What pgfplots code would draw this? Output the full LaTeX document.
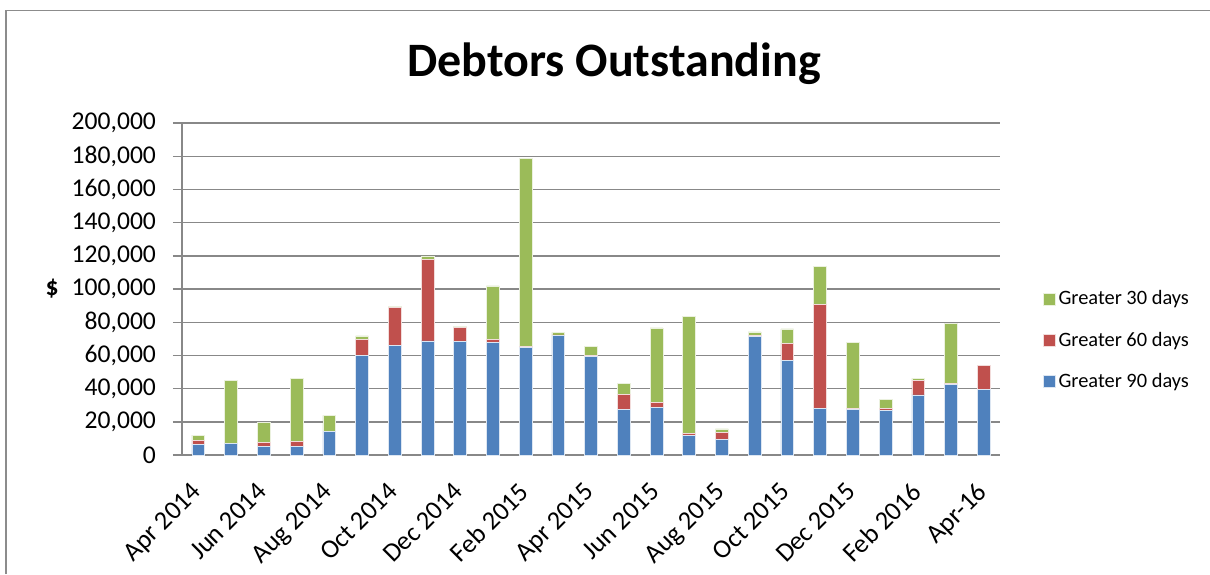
\documentclass[border=0pt]{standalone}
\usepackage{pgfplots}
\pgfplotsset{compat=1.18}
\usepackage{pgfplotstable}
\usepackage{fontspec}
\setmainfont{Carlito}
\definecolor{xblue}{HTML}{4F81BD}
\definecolor{xred}{HTML}{C0504D}
\definecolor{xgreen}{HTML}{9BBB59}
\definecolor{xgrid}{HTML}{888888}
\definecolor{xframe}{HTML}{8C8C8C}
\pgfplotstableread{
idx g90 g60 g30
0 6600 2000 3400
1 6800 300 37700
2 5200 2200 12300
3 5200 2800 38000
4 14300 0 9600
5 59900 9600 2300
6 65900 23100 400
7 68700 49100 2200
8 68500 8300 800
9 67900 1600 32400
10 64900 300 113700
11 72000 400 1400
12 59500 300 5500
13 27700 8700 6600
14 28700 3100 44800
15 11900 1000 70500
16 9400 4300 2000
17 71600 400 2200
18 57100 10000 8900
19 28100 62600 22900
20 27300 600 39800
21 26900 1200 5300
22 36200 8800 1200
23 42600 600 36200
24 39400 14500 0
}\debtors
\begin{document}
\begin{tikzpicture}
\useasboundingbox (0,0) rectangle (605pt,287pt);
\draw[xframe, line width=0.6pt] (3pt,0) -- (3pt,281.8pt) -- (605pt,281.8pt);
\node[anchor=base, font=\fontsize{24}{28}\selectfont\bfseries] at (307pt,248.5pt) {Debtors Outstanding};
\begin{axis}[
  at={(91pt,59.5pt)}, anchor=south west,
  scale only axis, width=409pt, height=166pt,
  ybar stacked, bar width=6.4pt,
  xmin=-0.5, xmax=24.5, ymin=0, ymax=200000,
  axis x line*=bottom, axis y line*=left,
  axis line style={xgrid, line width=0.7pt},
  ytick={0,20000,...,200000},
  scaled y ticks=false,
  /pgf/number format/fixed,
  /pgf/number format/1000 sep={,},
  /pgf/number format/assume math mode=true,
  yticklabel style={font=\fontsize{12.8}{15}\selectfont, xshift=-5pt},
  ymajorgrids, grid style={xgrid, line width=0.7pt},
  tick align=outside,
  major tick length=4.5pt,
  tick style={xgrid, line width=0.7pt},
  xtick={0,2,...,24},
  xticklabels={Apr 2014,Jun 2014,Aug 2014,Oct 2014,Dec 2014,Feb 2015,Apr 2015,Jun 2015,Aug 2015,Oct 2015,Dec 2015,Feb 2016,Apr-16},
  x tick style={draw=none},
  minor xtick={-0.5,0.5,...,24.5},
  minor x tick style={xgrid, line width=0.7pt},
  minor tick length=4pt,
  xticklabel style={font=\fontsize{13.2}{15}\selectfont, rotate=45, anchor=north east, inner sep=0pt, xshift=-8.7pt, yshift=-3pt},
  ylabel={\bfseries\$},
  every axis y label/.style={at={(-65pt,83pt)}, anchor=center, font=\fontsize{12.8}{15}\selectfont},
  legend style={draw=none, fill=none, at={(1.052,0.505)}, anchor=north west,
    font=\fontsize{10.2}{12}\selectfont, row sep=9pt, inner sep=0pt,
    nodes={inner sep=1.5pt}},
  legend cell align=left,
  reverse legend,
  legend image code/.code={\fill[#1] (0pt,-3pt) rectangle (6pt,3pt);},
]
\addplot[fill=xblue, draw=white!80!xblue, line width=0.3pt] table[x=idx, y=g90] {\debtors};
\addplot[fill=xred, draw=white!80!xred, line width=0.3pt] table[x=idx, y=g60] {\debtors};
\addplot[fill=xgreen, draw=white!80!xgreen, line width=0.3pt] table[x=idx, y=g30] {\debtors};
\legend{Greater 90 days, Greater 60 days, Greater 30 days}
\end{axis}
\end{tikzpicture}
\end{document}
